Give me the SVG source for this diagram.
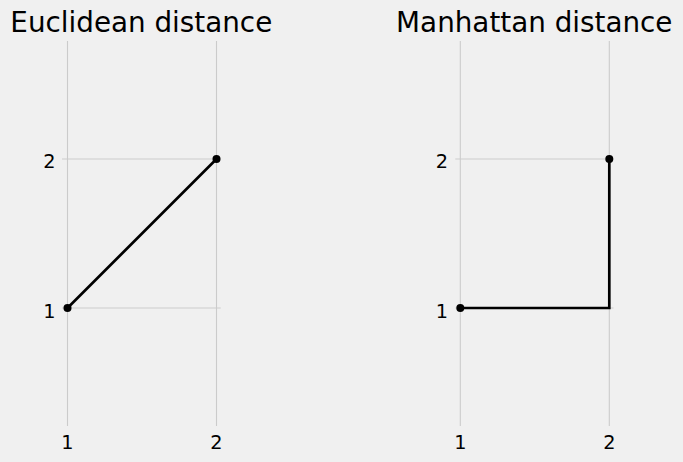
<svg xmlns="http://www.w3.org/2000/svg" width="683" height="462" viewBox="0 0 683 462">
<style>
.grid{stroke:#cbcbcb;stroke-width:1.1;fill:none}
.t{font-family:"DejaVu Sans",sans-serif;fill:#000}
.tick{font-size:19.3px}
.title{font-size:27.8px;text-anchor:middle}
.data{stroke:#000;stroke-width:2.7;fill:none;stroke-linejoin:miter}
.dot{fill:#000}
</style>
<rect width="683" height="462" fill="#f0f0f0"/>
<g id="euclidean">
  <g class="grid-lines">
    <line class="grid" x1="67.5" y1="41" x2="67.5" y2="426"/>
    <line class="grid" x1="216.5" y1="41" x2="216.5" y2="426"/>
    <line class="grid" x1="62" y1="159" x2="220.7" y2="159"/>
    <line class="grid" x1="62" y1="308" x2="220.7" y2="308"/>
  </g>
  <text class="t title" x="141.3" y="32.3">Euclidean distance</text>
  <text class="t tick" x="55.5" y="168.3" text-anchor="end">2</text>
  <text class="t tick" x="55.5" y="317.5" text-anchor="end">1</text>
  <text class="t tick" x="67.5" y="449" text-anchor="middle">1</text>
  <text class="t tick" x="216.5" y="449" text-anchor="middle">2</text>
</g>
<g id="manhattan">
  <g class="grid-lines">
    <line class="grid" x1="460.3" y1="41" x2="460.3" y2="426"/>
    <line class="grid" x1="609.3" y1="41" x2="609.3" y2="426"/>
    <line class="grid" x1="455.3" y1="159" x2="613.5" y2="159"/>
    <line class="grid" x1="455.3" y1="308" x2="613.5" y2="308"/>
  </g>
  <text class="t title" x="534.3" y="32.3">Manhattan distance</text>
  <text class="t tick" x="448" y="168.3" text-anchor="end">2</text>
  <text class="t tick" x="448" y="317.5" text-anchor="end">1</text>
  <text class="t tick" x="460.3" y="449" text-anchor="middle">1</text>
  <text class="t tick" x="609.3" y="449" text-anchor="middle">2</text>
</g>
<g id="connectors">
  <line class="data" x1="67.5" y1="308" x2="216.5" y2="159"/>
  <polyline class="data" points="460.3,308 609.3,308 609.3,159"/>
</g>
<g id="points">
  <circle class="dot" cx="67.5" cy="308" r="4"/>
  <circle class="dot" cx="216.5" cy="159" r="4"/>
  <circle class="dot" cx="460.3" cy="308" r="4"/>
  <circle class="dot" cx="609.3" cy="159" r="4"/>
</g>
</svg>
